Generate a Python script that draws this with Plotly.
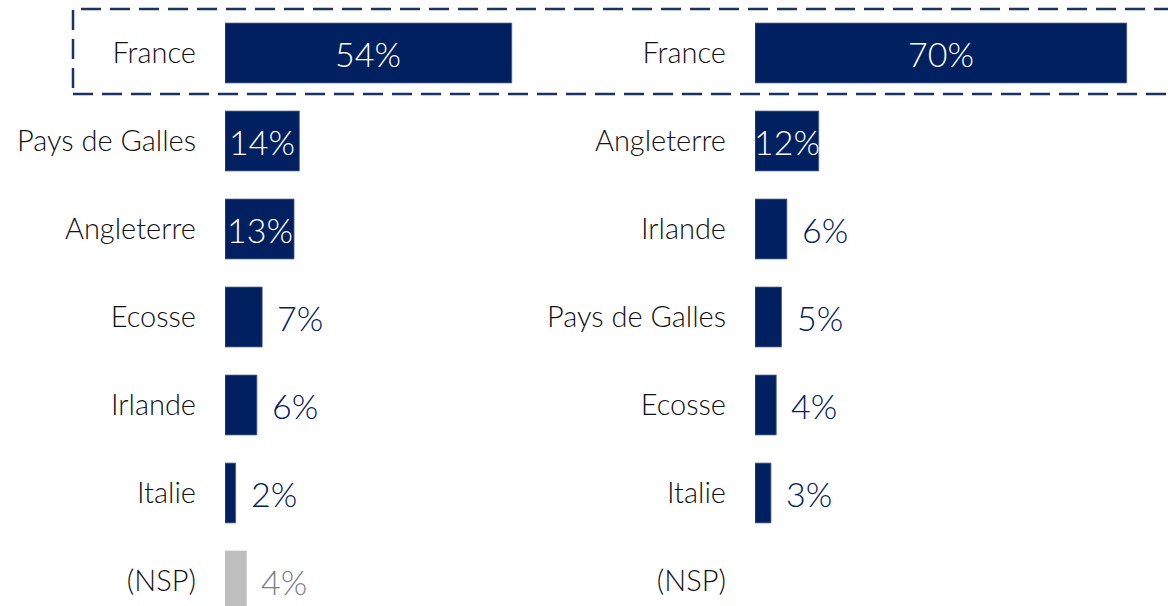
import plotly.graph_objects as go

left_categories = ["France", "Pays de Galles", "Angleterre", "Ecosse", "Irlande", "Italie", "(NSP)"]
left_values = [54, 14, 13, 7, 6, 2, 4]
right_categories = ["France", "Angleterre", "Irlande", "Pays de Galles", "Ecosse", "Italie", "(NSP)"]
right_values = [70, 12, 6, 5, 4, 3, None]
inside_threshold = 10

NAVY = "#002060"
GRAY = "#BFBFBF"
W, H = 1168, 606
PX = 5.31          # pixels per percentage point
ROW = 88           # pixels per row
FIRST = 53         # pixel centre of first row
FONT = "Lato"

yrange = [(H - FIRST) / ROW, -FIRST / ROW]

fig = go.Figure()

def colors(cats):
    return [GRAY if c == "(NSP)" else NAVY for c in cats]

def edge_colors(cats):
    return [GRAY if c == "(NSP)" else "#4a5f8f" for c in cats]

fig.add_trace(go.Bar(x=left_values, y=left_categories, orientation="h",
                     marker=dict(color=colors(left_categories),
                                 line=dict(width=0.8, color=edge_colors(left_categories))),
                     width=0.68, xaxis="x", yaxis="y", hoverinfo="skip", showlegend=False))
fig.add_trace(go.Bar(x=right_values, y=right_categories, orientation="h",
                     marker=dict(color=colors(right_categories),
                                 line=dict(width=0.8, color=edge_colors(right_categories))),
                     width=0.68, xaxis="x2", yaxis="y2", hoverinfo="skip", showlegend=False))

annotations = []
for cats, vals, xr, yr in [(left_categories, left_values, "x", "y"),
                           (right_categories, right_values, "x2", "y2")]:
    for c, v in zip(cats, vals):
        if v is None:
            continue
        if v >= inside_threshold:
            annotations.append(dict(x=v / 2, y=c, xref=xr, yref=yr, text=f"{v}%",
                                    showarrow=False, xanchor="center", yanchor="middle",
                                    font=dict(family=FONT, size=34, color="white", weight=300)))
        else:
            col = "#7F7F7F" if c == "(NSP)" else NAVY
            annotations.append(dict(x=v, y=c, xref=xr, yref=yr, text=f"{v}%",
                                    showarrow=False, xanchor="left", yanchor="middle", xshift=13,
                                    font=dict(family=FONT, size=34, color=col, weight=300)))

yaxis_common = dict(range=yrange, showgrid=False, zeroline=False, showline=False, ticks="",
                    ticklabelstandoff=28, domain=[0, 1],
                    tickfont=dict(family=FONT, size=29, color="#111111", weight=300))
xaxis_common = dict(showgrid=False, zeroline=False, showline=False, showticklabels=False, ticks="")

fig.update_layout(
    width=W, height=H,
    margin=dict(l=0, r=0, t=0, b=0),
    paper_bgcolor="white", plot_bgcolor="white",
    xaxis=dict(domain=[225 / W, 560 / W], range=[0, (560 - 225) / PX], anchor="y", **xaxis_common),
    xaxis2=dict(domain=[755 / W, 1.0], range=[0, (W - 755) / PX], anchor="y2", **xaxis_common),
    yaxis=dict(anchor="x", categoryorder="array", categoryarray=left_categories, **yaxis_common),
    yaxis2=dict(anchor="x2", categoryorder="array", categoryarray=right_categories, **yaxis_common),
    annotations=annotations,
    bargap=0,
    shapes=[dict(type="rect", xref="paper", yref="paper",
                 x0=73 / W, x1=1190 / W, y0=1 - 94 / H, y1=1 - 9 / H,
                 line=dict(color="#1A3366", width=2.5, dash="20px,9px"))],
)

fig.write_html("out.html", config={"displayModeBar": False, "staticPlot": True},
               post_script="document.body.style.margin='0';document.body.style.overflow='hidden';")
